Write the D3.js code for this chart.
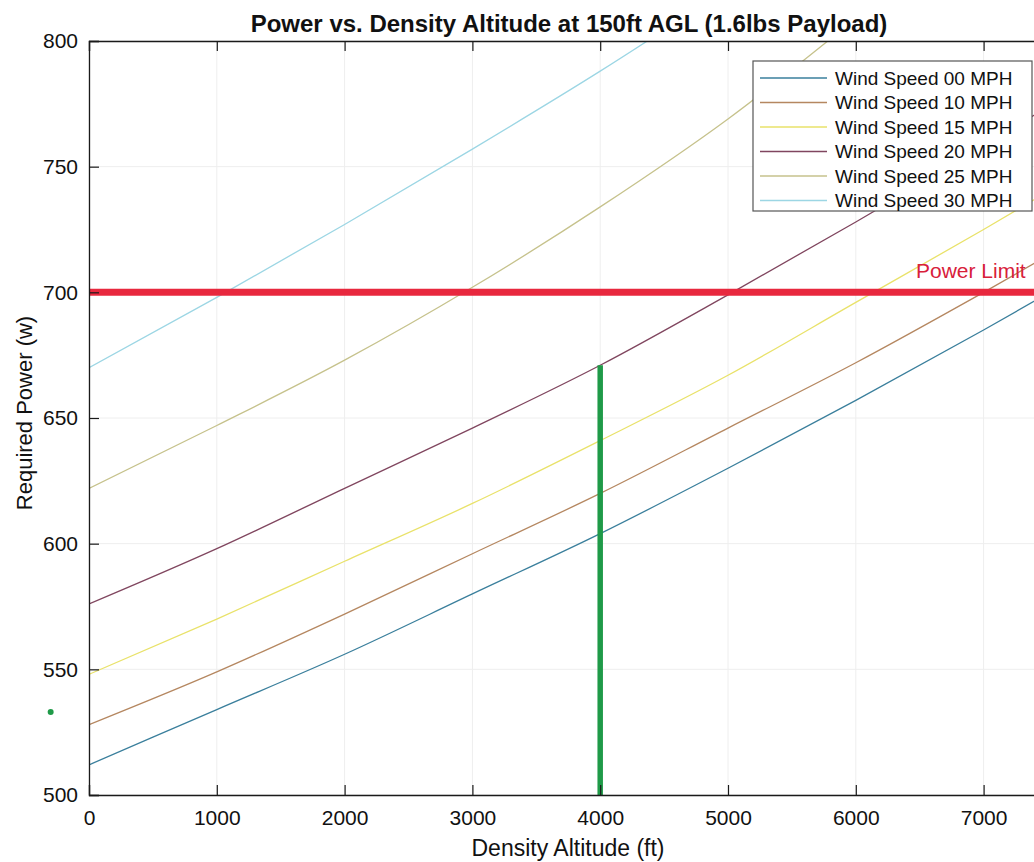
<!DOCTYPE html>
<html>
<head>
<meta charset="utf-8">
<script src="https://cdn.jsdelivr.net/npm/d3@7"></script>
<style>
  html, body { margin: 0; padding: 0; background: #ffffff; overflow: hidden; }
  svg { display: block; }
  text { font-family: "Liberation Sans", Arial, Helvetica, sans-serif; fill: #111; }
</style>
</head>
<body>
<svg id="chart" width="1034" height="862"></svg>
<script>
// ---------- data ----------
const altitudes = [0, 1000, 2000, 3000, 4000, 5000, 6000, 7000, 8000];
const seriesNames = ["Wind Speed 00 MPH", "Wind Speed 10 MPH", "Wind Speed 15 MPH",
                     "Wind Speed 20 MPH", "Wind Speed 25 MPH", "Wind Speed 30 MPH"];
const wind00 = [512, 534, 556, 580, 604, 630, 657, 685, 714];
const wind10 = [528, 549, 572, 596, 620, 646, 672, 700, 729];
const wind15 = [548, 570, 593, 616, 641, 667, 696, 725, 755];
const wind20 = [576, 598, 622, 646, 671, 699, 728, 758, 790];
const wind25 = [622, 647, 673, 702, 734, 769, 809];
const wind30 = [670, 698, 727, 757, 788, 821];
const seriesColors = ["#3a7f9c", "#b58760", "#e9e26a", "#80465f", "#c6c28c", "#9cd6e4"];
const xTicks = [0, 1000, 2000, 3000, 4000, 5000, 6000, 7000];
const yTicks = [500, 550, 600, 650, 700, 750, 800];
const powerLimit = 700;
const markerAltitude = 4000;
const markerPower = 671;
const strayPoint = { alt: -300, power: 533 };

(function () {
// ---------- layout ----------
const svg = d3.select("#chart");
const mLeft = 89, mTop = 41, mBottom = 795;
const x = d3.scaleLinear().domain([0, 8000]).range([mLeft, mLeft + 8 * 127.8]);
const y = d3.scaleLinear().domain([500, 800]).range([mBottom, mTop]);
const mRight = x(8000);

svg.append("defs").append("clipPath").attr("id", "plotclip")
  .append("rect").attr("x", mLeft).attr("y", mTop).attr("width", mRight - mLeft).attr("height", mBottom - mTop);

// grid
const grid = svg.append("g");
grid.selectAll("line.gx").data(xTicks).enter().append("line")
  .attr("x1", d => x(d)).attr("x2", d => x(d)).attr("y1", mTop).attr("y2", mBottom)
  .attr("stroke", "#eeeeee").attr("stroke-width", 1);
grid.selectAll("line.gy").data(yTicks).enter().append("line")
  .attr("x1", mLeft).attr("x2", mRight).attr("y1", d => y(d)).attr("y2", d => y(d))
  .attr("stroke", "#eeeeee").attr("stroke-width", 1);

// curves
const seriesData = [wind00, wind10, wind15, wind20, wind25, wind30];
const line = d3.line().x((d, i) => x(altitudes[i])).y(d => y(d)).curve(d3.curveMonotoneX);
const plot = svg.append("g").attr("clip-path", "url(#plotclip)");
seriesData.forEach((vals, k) => {
  plot.append("path").datum(vals).attr("d", line)
    .attr("fill", "none").attr("stroke", seriesColors[k]).attr("stroke-width", 1.3);
});

// power limit
plot.append("line")
  .attr("x1", mLeft).attr("x2", mRight).attr("y1", y(powerLimit)).attr("y2", y(powerLimit))
  .attr("stroke", "#e8283e").attr("stroke-width", 7);

// green marker
svg.append("line")
  .attr("x1", x(markerAltitude)).attr("x2", x(markerAltitude))
  .attr("y1", y(500)).attr("y2", y(markerPower))
  .attr("stroke", "#1f9a48").attr("stroke-width", 5.5);
svg.append("circle").attr("cx", x(strayPoint.alt)).attr("cy", y(strayPoint.power)).attr("r", 3)
  .attr("fill", "#1f9a48");

// axes
const xAxisB = d3.axisBottom(x).tickValues(xTicks).tickSize(-10).tickPadding(15).tickFormat(d3.format("d"));
const xAxisT = d3.axisTop(x).tickValues(xTicks).tickSize(-10).tickFormat("");
const yAxisL = d3.axisLeft(y).tickValues(yTicks).tickSize(-10).tickPadding(11).tickFormat(d3.format("d"));

const gxb = svg.append("g").attr("transform", `translate(0,${mBottom})`).call(xAxisB);
const gxt = svg.append("g").attr("transform", `translate(0,${mTop})`).call(xAxisT);
const gyl = svg.append("g").attr("transform", `translate(${mLeft},0)`).call(yAxisL);
[gxb, gxt, gyl].forEach(g => {
  g.select(".domain").attr("stroke", "#1a1a1a").attr("stroke-width", 1.3);
  g.selectAll(".tick line").attr("stroke", "#1a1a1a").attr("stroke-width", 1.2);
  g.selectAll(".tick text").attr("font-size", 21).attr("fill", "#111")
    .attr("font-family", '"Liberation Sans", Arial, Helvetica, sans-serif');
});

// power limit label
svg.append("text").attr("x", 916).attr("y", 278)
  .attr("font-size", 21).style("fill", "#d8203a").text("Power Limit");

// title and labels
svg.append("text").attr("x", 569).attr("y", 32).attr("text-anchor", "middle")
  .attr("font-size", 24).attr("font-weight", "bold")
  .text("Power vs. Density Altitude at 150ft AGL (1.6lbs Payload)");
svg.append("text").attr("x", 568).attr("y", 856).attr("text-anchor", "middle")
  .attr("font-size", 23).text("Density Altitude (ft)");
svg.append("text").attr("transform", "translate(32,413) rotate(-90)").attr("text-anchor", "middle")
  .attr("font-size", 22).text("Required Power (w)");

// legend
const lg = svg.append("g");
lg.append("rect").attr("x", 753).attr("y", 61).attr("width", 279).attr("height", 150)
  .attr("fill", "#fff").attr("stroke", "#555").attr("stroke-width", 1.2);
seriesNames.forEach((name, k) => {
  const cy = 78 + k * 24.5;
  lg.append("line").attr("x1", 760).attr("x2", 827).attr("y1", cy).attr("y2", cy)
    .attr("stroke", seriesColors[k]).attr("stroke-width", 1.5);
  lg.append("text").attr("x", 835).attr("y", cy).attr("dy", "0.35em")
    .attr("font-size", 19).text(name);
});
})();
</script>
</body>
</html>
